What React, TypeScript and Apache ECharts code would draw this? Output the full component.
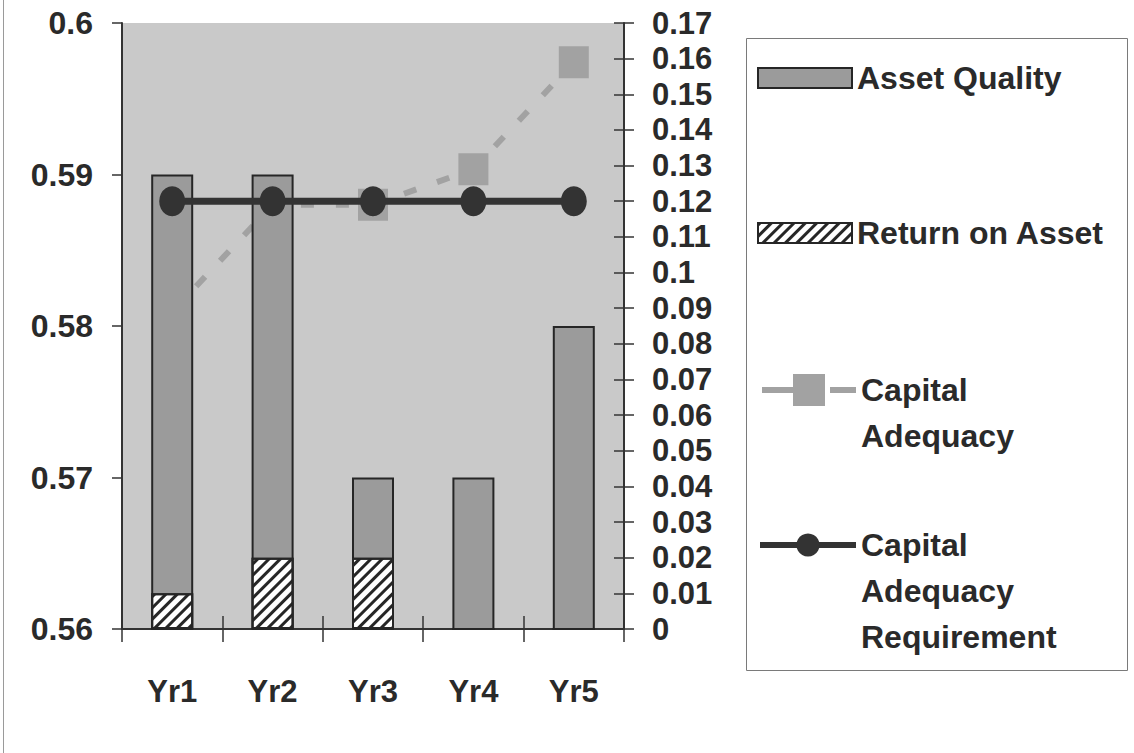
import React, { useEffect, useRef } from "react";
import * as echarts from "echarts";

const categories = ["Yr1", "Yr2", "Yr3", "Yr4", "Yr5"];
const assetQuality = [0.59, 0.59, 0.57, 0.57, 0.58];
const returnOnAsset = [0.01, 0.02, 0.02, 0, 0];
const capitalAdequacy = [0.089, 0.119, 0.119, 0.129, 0.159];
const capitalAdequacyRequirement = [0.12, 0.12, 0.12, 0.12, 0.12];

const leftAxisRange = { min: 0.56, max: 0.6, interval: 0.01 };
const rightAxisRange = { min: 0, max: 0.17, interval: 0.01 };

const FONT = "'Liberation Sans', Arial, sans-serif";
const TEXT = "#2a2a2a";
const AXIS = "#333333";

export default function App() {
  const ref = useRef<HTMLDivElement>(null);

  useEffect(() => {
    if (!ref.current) return;
    const chart = echarts.init(ref.current, undefined, { renderer: "svg" });

    const legendText = {
      fontSize: 32,
      fontWeight: "bold" as const,
      color: TEXT,
      fontFamily: FONT,
      lineHeight: 46,
    };
    // put the first line of a wrapped legend name level with its icon
    const multi = (n: string) => {
      const parts = n.split(" ");
      return "\n".repeat(parts.length - 1) + parts.join("\n");
    };

    const option: any = {
      animation: false,
      backgroundColor: "#ffffff",
      grid: {
        left: 122,
        right: 510,
        top: 23,
        bottom: 753 - 629,
        show: true,
        backgroundColor: "#c9c9c9",
        borderWidth: 0,
      },
      xAxis: [
        {
          type: "category",
          data: categories,
          position: "bottom",
          axisLine: { lineStyle: { color: AXIS, width: 2 } },
          axisTick: { show: true, inside: false, length: 13, lineStyle: { color: AXIS, width: 1.5 } },
          axisLabel: {
            margin: 47,
            fontSize: 31,
            fontWeight: "bold",
            color: TEXT,
            fontFamily: FONT,
          },
        },
        {
          type: "category",
          data: categories,
          position: "bottom",
          axisLine: { show: false },
          axisTick: { show: true, inside: true, length: 13, lineStyle: { color: AXIS, width: 1.5 } },
          axisLabel: { show: false },
        },
      ],
      yAxis: [
        {
          type: "value",
          position: "left",
          ...leftAxisRange,
          splitLine: { show: false },
          axisLine: { show: true, lineStyle: { color: AXIS, width: 2 } },
          axisTick: { show: true, length: 10, lineStyle: { color: AXIS, width: 1.5 } },
          axisLabel: {
            margin: 29,
            fontSize: 32,
            fontWeight: "bold",
            color: TEXT,
            fontFamily: FONT,
          },
        },
        {
          type: "value",
          position: "right",
          ...rightAxisRange,
          splitLine: { show: false },
          axisLine: { show: true, lineStyle: { color: AXIS, width: 2 } },
          axisTick: { show: true, length: 10, lineStyle: { color: AXIS, width: 1.5 } },
          axisLabel: {
            margin: 28,
            fontSize: 31,
            fontWeight: "bold",
            color: TEXT,
            fontFamily: FONT,
          },
        },
        {
          type: "value",
          position: "right",
          ...rightAxisRange,
          splitLine: { show: false },
          axisLine: { show: false },
          axisTick: { show: true, inside: true, length: 10, lineStyle: { color: AXIS, width: 1.5 } },
          axisLabel: { show: false },
        },
      ],
      legend: [
        {
          left: 757,
          top: 55,
          padding: 0,
          icon: "rect",
          itemWidth: 94,
          itemHeight: 20,
          data: ["Asset Quality"],
          textStyle: legendText,
        },
        {
          left: 757,
          top: 210,
          padding: 0,
          icon: "rect",
          itemWidth: 94,
          itemHeight: 20,
          data: ["Return on Asset"],
          textStyle: legendText,
        },
        {
          left: 759,
          top: 321,
          padding: 0,
          itemWidth: 94,
          itemHeight: 40,
          data: ["Capital Adequacy"],
          formatter: multi,
          lineStyle: { width: 6, type: [34, 34] },
          textStyle: legendText,
        },
        {
          left: 757,
          top: 430,
          padding: 0,
          itemWidth: 96,
          itemHeight: 29,
          data: ["Capital Adequacy Requirement"],
          formatter: multi,
          lineStyle: { width: 6 },
          textStyle: legendText,
        },
      ],
      graphic: [
        {
          type: "rect",
          shape: { x: 746.5, y: 38.5, width: 381, height: 632 },
          style: { fill: "none", stroke: "#7a7a7a", lineWidth: 1 },
          silent: true,
        },
        {
          type: "line",
          shape: { x1: 3.5, y1: 0, x2: 3.5, y2: 753 },
          style: { stroke: "#9a9a9a", lineWidth: 1 },
          silent: true,
        },
      ],
      series: [
        {
          name: "Capital Adequacy",
          type: "line",
          yAxisIndex: 1,
          z: 1,
          data: capitalAdequacy,
          symbol: "rect",
          symbolSize: [30, 32],
          itemStyle: { color: "#a2a2a2" },
          lineStyle: { color: "#a2a2a2", width: 6, type: [13, 22] },
        },
        {
          name: "Asset Quality",
          type: "bar",
          yAxisIndex: 0,
          z: 2,
          barWidth: 42,
          barGap: "-100%",
          data: assetQuality,
          itemStyle: { color: "#9b9b9b", borderColor: "#262626", borderWidth: 2 },
        },
        {
          name: "Return on Asset",
          type: "bar",
          yAxisIndex: 1,
          z: 2,
          barWidth: 42,
          barGap: "-100%",
          data: returnOnAsset,
          itemStyle: {
            color: "#ffffff",
            borderColor: "#262626",
            borderWidth: 2,
            decal: {
              symbol: "rect",
              symbolSize: 1,
              color: "#262626",
              backgroundColor: "#ffffff",
              dashArrayX: [1, 0],
              dashArrayY: [3, 5],
              rotation: -Math.PI / 4,
            },
          },
        },
        {
          name: "Capital Adequacy Requirement",
          type: "line",
          yAxisIndex: 1,
          z: 3,
          data: capitalAdequacyRequirement,
          symbol: "circle",
          symbolSize: [26, 30],
          itemStyle: { color: "#333333" },
          lineStyle: { color: "#333333", width: 7 },
        },
      ],
    };

    chart.setOption(option);
    return () => chart.dispose();
  }, []);

  return (
    <div
      ref={ref}
      style={{ position: "absolute", left: 0, top: 0, width: 1134, height: 753, background: "#fff" }}
    />
  );
}
